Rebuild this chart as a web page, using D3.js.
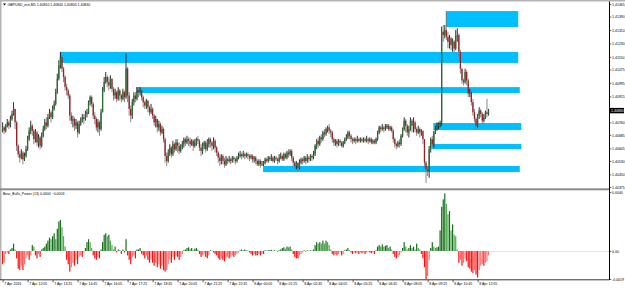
<!DOCTYPE html>
<html><head><meta charset="utf-8">
<script src="https://cdn.jsdelivr.net/npm/d3@7"></script>
<style>html,body{margin:0;padding:0;background:#fff;overflow:hidden}svg{display:block}</style>
</head><body>
<script>
// ---- DATA (GBPUSD_ecn, M5, 7-8 Apr 2016) ----
const symbol = "GBPUSD_ecn,M5";
const firstOpen = 1.4072;
const closes = [
1.4073,1.4071,1.4074,1.4076,1.4074,1.4078,1.4081,1.4084,1.4076,1.4062,
1.4057,1.4055,1.4058,1.4054,1.4056,1.4060,1.4066,1.4071,1.4074,1.4071,
1.4066,1.4070,1.4064,1.4067,1.4062,1.4068,1.4072,1.4076,1.4074,1.4079,
1.4082,1.4079,1.4084,1.4087,1.4094,1.4102,1.4110,1.4115,1.4108,1.4103,
1.4097,1.4095,1.4092,1.4080,1.4077,1.4078,1.4074,1.4076,1.4070,1.4075,
1.4077,1.4079,1.4078,1.4081,1.4082,1.4088,1.4091,1.4087,1.4080,1.4078,
1.4073,1.4076,1.4072,1.4082,1.4095,1.4100,1.4103,1.4100,1.4098,1.4102,
1.4096,1.4092,1.4094,1.4090,1.4095,1.4092,1.4090,1.4094,1.4091,1.4108,
1.4092,1.4084,1.4080,1.4088,1.4092,1.4090,1.4095,1.4094,1.4095,1.4091,
1.4088,1.4086,1.4089,1.4085,1.4082,1.4084,1.4080,1.4076,1.4078,1.4073,
1.4075,1.4070,1.4072,1.4066,1.4056,1.4053,1.4058,1.4061,1.4057,1.4063,
1.4060,1.4064,1.4062,1.4059,1.4061,1.4063,1.4066,1.4064,1.4066,1.4065,
1.4063,1.4065,1.4062,1.4064,1.4066,1.4065,1.4061,1.4059,1.4062,1.4064,
1.4060,1.4063,1.4066,1.4064,1.4062,1.4065,1.4061,1.4058,1.4055,1.4053,
1.4056,1.4053,1.4051,1.4054,1.4053,1.4054,1.4053,1.4055,1.4054,1.4053,
1.4055,1.4056,1.4057,1.4056,1.4057,1.4056,1.4057,1.4056,1.4055,1.4056,
1.4054,1.4055,1.4053,1.4051,1.4053,1.4051,1.4051,1.4052,1.4054,1.4053,
1.4055,1.4054,1.4055,1.4053,1.4055,1.4054,1.4053,1.4055,1.4056,1.4054,
1.4057,1.4055,1.4058,1.4057,1.4059,1.4055,1.4052,1.4050,1.4052,1.4049,
1.4052,1.4054,1.4053,1.4055,1.4053,1.4055,1.4054,1.4056,1.4055,1.4057,
1.4062,1.4065,1.4063,1.4067,1.4066,1.4070,1.4069,1.4072,1.4073,1.4071,
1.4070,1.4066,1.4064,1.4065,1.4063,1.4065,1.4064,1.4062,1.4064,1.4066,
1.4067,1.4070,1.4068,1.4066,1.4065,1.4066,1.4065,1.4066,1.4065,1.4066,
1.4065,1.4066,1.4065,1.4066,1.4065,1.4066,1.4064,1.4065,1.4064,1.4066,
1.4070,1.4073,1.4072,1.4073,1.4072,1.4073,1.4074,1.4072,1.4073,1.4071,
1.4066,1.4063,1.4062,1.4064,1.4063,1.4068,1.4072,1.4077,1.4074,1.4070,
1.4072,1.4077,1.4074,1.4076,1.4072,1.4070,1.4072,1.4070,1.4071,1.4066,
1.4052,1.4048,1.4047,1.4060,1.4066,1.4063,1.4070,1.4072,1.4074,1.4075,
1.4076,1.4130,1.4128,1.4131,1.4127,1.4124,1.4126,1.4122,1.4124,1.4120,
1.4127,1.4128,1.4118,1.4108,1.4101,1.4100,1.4106,1.4101,1.4093,1.4094,
1.4088,1.4082,1.4078,1.4074,1.4080,1.4083,1.4081,1.4077,1.4079,1.4082,1.4081,1.4083];
const highs = [
1.4076,1.4074,1.4075,1.4078,1.4077,1.4080,1.4083,1.4088,1.4084,1.4077,
1.4063,1.4059,1.4060,1.4059,1.4058,1.4062,1.4068,1.4073,1.4077,1.4075,
1.4072,1.4072,1.4071,1.4069,1.4068,1.4070,1.4074,1.4078,1.4079,1.4081,
1.4084,1.4083,1.4086,1.4089,1.4096,1.4105,1.4113,1.4118,1.4116,1.4109,
1.4104,1.4099,1.4096,1.4093,1.4082,1.4080,1.4079,1.4078,1.4077,1.4077,
1.4079,1.4081,1.4081,1.4083,1.4084,1.4089,1.4092,1.4092,1.4088,1.4082,
1.4079,1.4078,1.4077,1.4084,1.4097,1.4103,1.4106,1.4104,1.4103,1.4104,
1.4102,1.4097,1.4096,1.4095,1.4097,1.4096,1.4093,1.4096,1.4095,1.4117,
1.4109,1.4094,1.4086,1.4090,1.4094,1.4094,1.4097,1.4097,1.4097,1.4096,
1.4092,1.4089,1.4090,1.4089,1.4086,1.4087,1.4085,1.4081,1.4080,1.4078,
1.4077,1.4076,1.4074,1.4073,1.4067,1.4058,1.4060,1.4063,1.4062,1.4065,
1.4064,1.4066,1.4066,1.4064,1.4063,1.4065,1.4067,1.4067,1.4068,1.4067,
1.4067,1.4066,1.4066,1.4066,1.4067,1.4068,1.4066,1.4063,1.4064,1.4065,
1.4065,1.4066,1.4067,1.4067,1.4065,1.4067,1.4066,1.4062,1.4059,1.4057,
1.4057,1.4057,1.4055,1.4056,1.4055,1.4056,1.4055,1.4056,1.4056,1.4055,
1.4056,1.4058,1.4059,1.4058,1.4059,1.4058,1.4058,1.4058,1.4057,1.4057,
1.4057,1.4056,1.4056,1.4054,1.4054,1.4054,1.4053,1.4053,1.4055,1.4055,
1.4056,1.4056,1.4057,1.4056,1.4056,1.4056,1.4055,1.4057,1.4058,1.4057,
1.4058,1.4058,1.4059,1.4060,1.4060,1.4060,1.4056,1.4053,1.4053,1.4052,
1.4054,1.4055,1.4055,1.4056,1.4056,1.4057,1.4056,1.4057,1.4057,1.4059,
1.4063,1.4066,1.4067,1.4068,1.4069,1.4071,1.4072,1.4073,1.4074,1.4075,
1.4072,1.4071,1.4067,1.4066,1.4066,1.4066,1.4066,1.4065,1.4065,1.4067,
1.4069,1.4071,1.4071,1.4069,1.4067,1.4067,1.4067,1.4068,1.4067,1.4067,
1.4067,1.4067,1.4067,1.4068,1.4067,1.4067,1.4067,1.4066,1.4066,1.4067,
1.4071,1.4074,1.4074,1.4075,1.4074,1.4075,1.4075,1.4075,1.4074,1.4074,
1.4072,1.4067,1.4064,1.4065,1.4066,1.4069,1.4073,1.4079,1.4078,1.4075,
1.4074,1.4079,1.4078,1.4079,1.4077,1.4073,1.4074,1.4073,1.4072,1.4071,
1.4066,1.4053,1.4050,1.4062,1.4067,1.4068,1.4071,1.4074,1.4076,1.4076,
1.4077,1.4133,1.4134,1.4134,1.4142,1.4130,1.4128,1.4127,1.4126,1.4125,
1.4131,1.4132,1.4129,1.4119,1.4108,1.4102,1.4108,1.4107,1.4102,1.4096,
1.4095,1.4090,1.4084,1.4079,1.4081,1.4085,1.4084,1.4082,1.4081,1.4083,1.4090,1.4084];
const lows = [
1.4070,1.4069,1.4070,1.4073,1.4072,1.4073,1.4077,1.4080,1.4072,1.4059,
1.4055,1.4052,1.4054,1.4051,1.4053,1.4055,1.4059,1.4065,1.4069,1.4068,
1.4063,1.4064,1.4062,1.4061,1.4060,1.4061,1.4067,1.4071,1.4072,1.4073,
1.4078,1.4076,1.4078,1.4083,1.4086,1.4093,1.4101,1.4108,1.4106,1.4100,
1.4095,1.4092,1.4090,1.4077,1.4075,1.4073,1.4071,1.4072,1.4067,1.4069,
1.4074,1.4076,1.4075,1.4077,1.4079,1.4081,1.4086,1.4085,1.4078,1.4075,
1.4071,1.4070,1.4068,1.4071,1.4082,1.4094,1.4099,1.4097,1.4095,1.4096,
1.4094,1.4089,1.4090,1.4088,1.4089,1.4089,1.4088,1.4089,1.4088,1.4090,
1.4088,1.4080,1.4076,1.4078,1.4086,1.4088,1.4089,1.4091,1.4092,1.4089,
1.4085,1.4084,1.4084,1.4082,1.4080,1.4081,1.4078,1.4074,1.4073,1.4070,
1.4071,1.4068,1.4069,1.4064,1.4052,1.4050,1.4052,1.4056,1.4055,1.4056,
1.4058,1.4059,1.4058,1.4057,1.4058,1.4060,1.4061,1.4062,1.4063,1.4062,
1.4061,1.4062,1.4059,1.4061,1.4062,1.4063,1.4059,1.4056,1.4057,1.4060,
1.4058,1.4059,1.4061,1.4061,1.4059,1.4060,1.4058,1.4056,1.4052,1.4050,
1.4051,1.4051,1.4049,1.4050,1.4051,1.4052,1.4051,1.4052,1.4052,1.4051,
1.4052,1.4054,1.4055,1.4054,1.4055,1.4054,1.4055,1.4054,1.4053,1.4054,
1.4052,1.4052,1.4051,1.4050,1.4050,1.4049,1.4050,1.4050,1.4051,1.4052,
1.4052,1.4053,1.4053,1.4052,1.4052,1.4053,1.4051,1.4052,1.4054,1.4053,
1.4053,1.4054,1.4054,1.4055,1.4056,1.4053,1.4050,1.4049,1.4048,1.4047,
1.4048,1.4051,1.4051,1.4052,1.4051,1.4052,1.4052,1.4053,1.4053,1.4054,
1.4056,1.4060,1.4061,1.4062,1.4064,1.4065,1.4067,1.4068,1.4070,1.4069,
1.4067,1.4064,1.4062,1.4062,1.4061,1.4062,1.4062,1.4061,1.4061,1.4063,
1.4065,1.4066,1.4066,1.4064,1.4063,1.4064,1.4063,1.4064,1.4064,1.4064,
1.4064,1.4064,1.4064,1.4064,1.4063,1.4064,1.4063,1.4063,1.4063,1.4063,
1.4065,1.4069,1.4070,1.4071,1.4070,1.4071,1.4072,1.4071,1.4071,1.4070,
1.4064,1.4061,1.4060,1.4061,1.4061,1.4062,1.4067,1.4071,1.4070,1.4068,
1.4067,1.4071,1.4070,1.4070,1.4070,1.4068,1.4069,1.4067,1.4068,1.4063,
1.4049,1.4040,1.4044,1.4043,1.4058,1.4061,1.4061,1.4069,1.4071,1.4072,
1.4073,1.4074,1.4124,1.4126,1.4125,1.4120,1.4120,1.4119,1.4118,1.4118,
1.4119,1.4124,1.4115,1.4105,1.4099,1.4098,1.4099,1.4098,1.4091,1.4091,
1.4086,1.4080,1.4076,1.4072,1.4073,1.4078,1.4079,1.4075,1.4076,1.4078,1.4079,1.4080];
// Bears/Bulls power histogram (13)
const power = [
-0.0009,-0.0008,-0.0002,-0.0001,-0.0002,0.0001,0.0002,0.0005,0.0001,-0.0005,
-0.0012,-0.0013,-0.0010,-0.0013,-0.0009,-0.0005,-0.0003,-0.0006,-0.0003,0.0004,
0.0003,-0.0003,-0.0005,-0.0002,-0.0004,0.0001,0.0002,0.0003,0.0005,0.0007,
0.0009,0.0008,0.0010,0.0012,0.0008,0.0015,0.0020,0.0021,0.0016,0.0010,
0.0003,-0.0006,-0.0009,-0.0014,-0.0011,-0.0008,-0.0010,-0.0006,-0.0009,-0.0004,
-0.0003,-0.0004,-0.0001,0.0002,0.0006,0.0008,0.0006,0.0002,-0.0003,-0.0005,
-0.0006,-0.0004,-0.0005,0.0001,0.0006,0.0011,0.0012,0.0010,0.0011,0.0007,
0.0004,0.0001,0.0003,-0.0001,0.0001,0.00005,-0.0002,0.0001,-0.0001,0.0008,
-0.0003,-0.0006,-0.0009,-0.0004,-0.0003,-0.0005,0.0001,0.0001,0.0002,-0.0002,
-0.0003,-0.0005,-0.0003,-0.0006,-0.0008,-0.0006,-0.0008,-0.0010,-0.0008,-0.0011,
-0.0009,-0.0012,-0.0010,-0.0013,-0.0014,-0.0013,-0.0009,-0.0006,-0.0008,-0.0004,
-0.0006,-0.0003,-0.0004,-0.0006,-0.0004,-0.0002,0.00005,0.0001,0.0002,0.00025,
0.00015,0.0002,0.00005,0.00015,0.0002,0.0001,-0.0002,-0.0004,-0.0003,-0.0002,
-0.0004,-0.0005,-0.0003,0.00005,0.00003,-0.0001,-0.0002,-0.0003,-0.0005,-0.0006,
-0.0005,-0.0006,-0.0007,-0.0005,-0.0004,-0.0005,-0.0004,-0.0003,-0.0004,-0.0003,
-0.0002,-0.0001,0.00005,0.0001,0.00005,0.0001,0.00005,0.00003,-0.0001,-0.0002,
-0.0003,-0.0002,-0.0003,-0.0003,-0.0002,-0.0003,-0.0002,-0.0002,0.00005,0.00003,
0.00005,0.00005,0.00008,0.00003,0.00005,0.00003,-0.00005,0.00005,0.0001,0.0002,
0.00025,0.00015,0.0003,0.00025,0.0003,0.0001,-0.0002,-0.0004,-0.0005,-0.0005,
-0.0003,-0.0002,-0.0001,0.00005,-0.00005,0.00005,0.00003,0.00005,0.00003,0.0001,
0.0004,0.0006,0.0005,0.0006,0.0005,0.0007,0.0005,0.0007,0.0006,0.0004,
0.0001,-0.0002,-0.0003,-0.0002,-0.0003,-0.0002,-0.0001,-0.0003,-0.0002,0.00005,
0.0001,0.0002,0.00005,-0.0001,-0.0002,-0.0001,-0.00015,-0.0001,-0.0002,-0.0001,
-0.00015,-0.0001,-0.0002,-0.0001,-0.00005,-0.0001,-0.00015,-0.0001,-0.0002,0.00005,
0.0003,0.0004,0.0003,0.00045,0.0003,0.00035,0.0004,0.0002,0.0003,0.0001,
-0.0002,-0.0004,-0.0005,-0.0004,-0.0003,-0.0001,0.0002,0.0006,0.0003,0.0001,
0.0002,0.0004,0.0002,0.0003,0.0001,0.0005,0.0002,0.0001,-0.0002,-0.0005,
-0.0011,-0.0019,-0.0017,-0.0006,0.0002,0.0006,0.0003,0.0002,0.00025,0.0003,
0.0014,0.0030,0.0035,0.0039,0.0032,0.0025,0.0027,0.0014,0.0018,0.0011,
0.0010,0.0001,-0.0008,-0.0006,-0.0010,-0.0008,-0.0005,-0.0007,-0.0011,-0.0012,
-0.0014,-0.0015,-0.0013,-0.0016,-0.0018,-0.0013,-0.0010,-0.0009,-0.0010,-0.0008,-0.0007,-0.0003];
// supply / demand zones (bar index start/end, price top/bottom)
const zoneStart  = [284, 37, 86, 276, 275, 167];
const zoneEnd    = [330, 330, 331, 332, 332, 331];
const zoneTop    = [1.41423, 1.41179, 1.40970, 1.40756, 1.40631, 1.40500];
const zoneBottom = [1.41328, 1.41114, 1.40935, 1.40714, 1.40601, 1.40464];
// axis labels
const priceTicks = [1.41465,1.41390,1.41310,1.41230,1.41150,1.41075,1.40995,1.40915,1.40760,1.40685,1.40605,1.40530,1.40450,1.40375];
const powerTicks = [0.0040, 0, -0.0019];
const powerTickLabels = ["0.0040", "0.00", "-0.0019"];
const timeBars = [0,16,32,48,64,80,96,112,128,144,160,176,192,208,224,240,256,272,288,304];
const timeLabels = ["7 Apr 2016","7 Apr 12:05","7 Apr 13:25","7 Apr 14:45","7 Apr 16:05","7 Apr 17:25","7 Apr 18:45","7 Apr 20:05","7 Apr 21:25","7 Apr 22:45","8 Apr 00:05","8 Apr 01:25","8 Apr 02:45","8 Apr 04:05","8 Apr 05:25","8 Apr 06:45","8 Apr 08:05","8 Apr 09:25","8 Apr 10:45","8 Apr 12:05"];

// ---- CHART ----
const W = 625, H = 291;
const FONT = "'Liberation Sans', Arial, sans-serif";
const FS = 3.5;
const svg = d3.select("body").append("svg").attr("width", W).attr("height", H)
  .style("font-family", FONT);
svg.append("rect").attr("width", W).attr("height", H).attr("fill", "#fff");

const x = d3.scaleLinear().domain([0, 311]).range([2.6, 2.6 + 311 * 1.5625]);
const y = d3.scaleLinear().domain([1.40375, 1.41465]).range([187, 4]);
const yp = d3.scaleLinear().domain([-0.0019, 0.0040]).range([279, 192]);
const AX = 609.5;

const defs = svg.append("defs");
defs.append("clipPath").attr("id", "cm").append("rect").attr("x", 1.5).attr("y", 1.5).attr("width", AX - 1.5).attr("height", 187);
defs.append("clipPath").attr("id", "ci").append("rect").attr("x", 1.5).attr("y", 190.5).attr("width", AX - 1.5).attr("height", 89);

// zones
const main = svg.append("g").attr("clip-path", "url(#cm)");
main.selectAll("rect.zone").data(zoneStart).join("rect").attr("class", "zone")
  .attr("x", (d, i) => x(d) - 0.5)
  .attr("width", (d, i) => x(zoneEnd[i]) - x(d) + 0.5)
  .attr("y", (d, i) => y(zoneTop[i]))
  .attr("height", (d, i) => y(zoneBottom[i]) - y(zoneTop[i]))
  .attr("fill", "#00bfff");

// candles
const opens = closes.map((c, i) => i === 0 ? firstOpen : closes[i - 1]);
const bars = closes.map((c, i) => ({ i, o: opens[i], c, h: Math.max(highs[i], c, opens[i]), l: Math.min(lows[i], c, opens[i]) }));
const cg = main.append("g");
cg.selectAll("line.wick").data(bars).join("line").attr("class", "wick")
  .attr("x1", d => x(d.i)).attr("x2", d => x(d.i))
  .attr("y1", d => y(d.h)).attr("y2", d => y(d.l))
  .attr("stroke", d => d.c >= d.o ? "#1a1a1a" : "#7a7a7a").attr("stroke-width", 0.9);
cg.selectAll("rect.body").data(bars).join("rect").attr("class", "body")
  .attr("x", d => x(d.i) - 0.65).attr("width", 1.3)
  .attr("y", d => y(Math.max(d.o, d.c)))
  .attr("height", d => Math.max(0.6, Math.abs(y(d.o) - y(d.c))))
  .attr("fill", d => d.c >= d.o ? "#2a6e2f" : "#9a1f24");

// indicator histogram
const ind = svg.append("g").attr("clip-path", "url(#ci)");
const last = power.length - 1;
ind.append("line").attr("x1", x(last) + 2).attr("x2", AX).attr("y1", yp(0) + 0.5).attr("y2", yp(0) + 0.5)
  .attr("stroke", "#9a9a9a").attr("stroke-width", 0.6).attr("stroke-dasharray", "1,1");
ind.selectAll("rect.pw").data(power).join("rect").attr("class", "pw")
  .attr("x", (d, i) => x(i) - 0.6).attr("width", 1.2)
  .attr("y", d => Math.min(yp(d), yp(0)))
  .attr("height", d => Math.abs(yp(d) - yp(0)))
  .attr("fill", (d, i) => {
    const p = i > 0 ? power[i - 1] : d;
    if (d >= 0) return d >= p ? "#16701a" : "#4fa84f";
    return d <= p ? "#ff1010" : "#ff7070";
  });

// frame
svg.append("rect").attr("x", 0).attr("y", 0).attr("width", W).attr("height", 1.5).attr("fill", "#b4b4b4");
svg.append("rect").attr("x", 0).attr("y", 0).attr("width", 1.5).attr("height", 280).attr("fill", "#b4b4b4");
svg.append("rect").attr("x", 0).attr("y", 188.3).attr("width", AX).attr("height", 2).attr("fill", "#8c8c8c");
svg.append("line").attr("x1", AX).attr("x2", AX).attr("y1", 1.5).attr("y2", 280).attr("stroke", "#000").attr("stroke-width", 1);
svg.append("line").attr("x1", 0).attr("x2", AX).attr("y1", 279.8).attr("y2", 279.8).attr("stroke", "#000").attr("stroke-width", 0.8);

function styleAxis(g) {
  g.select(".domain").remove();
  g.selectAll("text").attr("font-size", FS).attr("font-family", FONT).attr("fill", "#000");
  g.selectAll("line").attr("stroke", "#000").attr("stroke-width", 0.6);
}
// price axis
svg.append("g").attr("transform", `translate(${AX},0)`)
  .call(d3.axisRight(y).tickValues(priceTicks).tickFormat(d3.format(".5f")).tickSize(1.8).tickPadding(0.8))
  .call(styleAxis);
// indicator axis
svg.append("g").attr("transform", `translate(${AX},0)`)
  .call(d3.axisRight(yp).tickValues(powerTicks).tickFormat((d, i) => powerTickLabels[i]).tickSize(1.8).tickPadding(0.8))
  .call(styleAxis);
// time axis
svg.append("g").attr("transform", `translate(0,279.8)`)
  .call(d3.axisBottom(x).tickValues(timeBars).tickFormat((d, i) => timeLabels[i]).tickSize(2.5).tickPadding(0.6))
  .call(styleAxis)
  .call(g => g.selectAll("text").attr("text-anchor", "start").attr("dx", 1.2));

// current price marker
const lastClose = closes[closes.length - 1];
const cp = svg.append("g").attr("transform", `translate(${AX},${y(lastClose)})`);
cp.append("rect").attr("x", 0).attr("y", -2.7).attr("width", 14.5).attr("height", 5.4).attr("fill", "#000");
cp.append("text").attr("x", 1.6).attr("y", 1.2).attr("font-size", FS).attr("fill", "#fff").text(d3.format(".5f")(lastClose));

// headers
const f5 = d3.format(".5f");
svg.append("path").attr("d", "M3,3.6 L6,3.6 L4.5,5.6 Z").attr("fill", "#000");
svg.append("text").attr("x", 7.5).attr("y", 6.1).attr("font-size", FS).attr("fill", "#000")
  .text(`${symbol}  ${f5(opens[last])} ${f5(highs[last])} ${f5(lows[last])} ${f5(lastClose)}`);
svg.append("text").attr("x", 3).attr("y", 194.8).attr("font-size", FS).attr("fill", "#000")
  .text(`Bear_Bulls_Power (13) 0.0000 ${d3.format(".4f")(power[last])}`);
</script>
</body></html>
